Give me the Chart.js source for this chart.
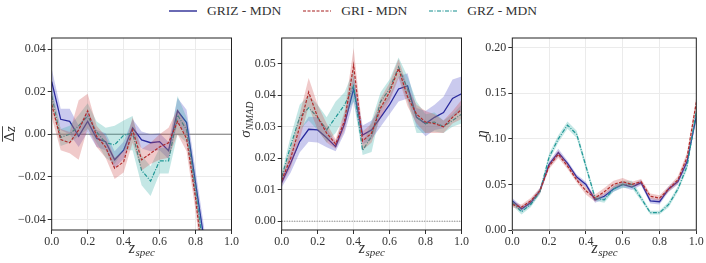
<!DOCTYPE html>
<html>
<head>
<meta charset="utf-8">
<script src="https://cdn.jsdelivr.net/npm/chart.js@4"></script>
<style>
  body { margin: 0; background: #fff; }
  #wrap { position: relative; width: 706px; height: 263px; overflow: hidden; }
  #legend {
    position: absolute; top: 3px; left: 0; width: 706px;
    display: flex; justify-content: center; align-items: center;
    font-family: "Liberation Serif", serif;
    font-size: 13.5px; color: #333;
  }
  #legend span.item { display: flex; align-items: center; margin: 0 11px; }
  #legend svg { margin-right: 10px; }
  canvas { position: absolute; top: 0; }
</style>
</head>
<body>
<div id="wrap">
  <div id="legend">
    <span class="item"><svg width="28" height="6"><line x1="0" y1="3" x2="28" y2="3" stroke="#1a1a8c" stroke-width="1.3"/></svg>GRIZ - MDN</span>
    <span class="item"><svg width="28" height="6"><line x1="0" y1="3" x2="28" y2="3" stroke="#a51c1c" stroke-width="1.2" stroke-dasharray="3,1.5"/></svg>GRI - MDN</span>
    <span class="item"><svg width="28" height="6"><line x1="0" y1="3" x2="28" y2="3" stroke="#138d8d" stroke-width="1.2" stroke-dasharray="4,1.5,1,1.5"/></svg>GRZ - MDN</span>
  </div>
  <canvas id="c1" width="240" height="263" style="left:0px"></canvas>
  <canvas id="c2" width="234" height="263" style="left:236px"></canvas>
  <canvas id="c3" width="240" height="263" style="left:466px"></canvas>
</div>

<script>
// redshift bins
const zSpec = [0, 0.05, 0.1, 0.15, 0.2, 0.25, 0.3, 0.35, 0.4, 0.45, 0.5,
               0.55, 0.6, 0.65, 0.7, 0.75, 0.8, 0.85, 0.9, 0.95, 1.0];

// ---- mean bias (delta z) ----
const biasGRIZ = [0.0247, 0.007, 0.006, -0.001, 0.006, -0.002, -0.0035, -0.012, -0.0075, 0.003, -0.0027,
                  -0.004, -0.0035, -0.0077, 0.011, 0.0055, -0.0229, -0.051, null, null, null];
const biasGRI  = [0.014, -0.0025, -0.004, 0.002, 0.011, -0.001, -0.006, -0.016, -0.013, 0.002, -0.012,
                  -0.009, -0.006, -0.004, 0.006, -0.002, -0.03, -0.066, null, null, null];
const biasGRZ  = [0.018, -0.0015, 0.0, 0.004, 0.0085, 0.001, -0.004, -0.005, -0.0005, 0.0005, -0.017,
                  -0.022, -0.0125, -0.0125, 0.009, 0.002, -0.026, -0.058, null, null, null];
const biasErrGRIZ = [0.006, 0.005, 0.006, 0.005, 0.005, 0.004, 0.004, 0.004, 0.004, 0.004, 0.004,
                     0.004, 0.004, 0.004, 0.006, 0.006, 0.006, 0.006, null, null, null];
const biasErrGRI  = [0.006, 0.005, 0.005, 0.014, 0.008, 0.005, 0.005, 0.005, 0.005, 0.006, 0.005,
                     0.005, 0.006, 0.007, 0.006, 0.006, 0.006, 0.006, null, null, null];
const biasErrGRZ  = [0.004, 0.004, 0.004, 0.005, 0.006, 0.005, 0.007, 0.009, 0.007, 0.008, 0.007,
                     0.007, 0.006, 0.006, 0.009, 0.006, 0.006, 0.006, null, null, null];

// ---- sigma NMAD ----
const sigGRIZ = [0.0123, 0.0185, 0.0253, 0.0292, 0.029, 0.0265, 0.0237, 0.031, 0.042, 0.0274, 0.029,
                 0.033, 0.037, 0.042, 0.043, 0.033, 0.031, 0.033, 0.0345, 0.039, 0.0405];
const sigGRI  = [0.013, 0.02, 0.03, 0.041, 0.033, 0.028, 0.0245, 0.032, 0.0495, 0.0255, 0.028,
                 0.036, 0.041, 0.0485, 0.0395, 0.034, 0.0315, 0.031, 0.030, 0.033, 0.0355];
const sigGRZ  = [0.014, 0.024, 0.033, 0.036, 0.033, 0.029, 0.033, 0.037, 0.043, 0.0225, 0.027,
                 0.038, 0.042, 0.049, 0.042, 0.033, 0.031, 0.0315, 0.030, 0.032, 0.034];
const sigErrGRIZ = [0.0015, 0.003, 0.0035, 0.004, 0.004, 0.003, 0.0015, 0.003, 0.004, 0.003, 0.003,
                    0.003, 0.003, 0.004, 0.004, 0.003, 0.004, 0.004, 0.005, 0.006, 0.0055];
const sigErrGRI  = [0.0015, 0.003, 0.004, 0.0045, 0.004, 0.003, 0.0015, 0.003, 0.0055, 0.003, 0.003,
                    0.003, 0.003, 0.003, 0.003, 0.003, 0.0035, 0.003, 0.002, 0.002, 0.003];
const sigErrGRZ  = [0.0015, 0.003, 0.004, 0.004, 0.004, 0.004, 0.005, 0.004, 0.005, 0.0015, 0.005,
                    0.003, 0.003, 0.003, 0.004, 0.005, 0.003, 0.003, 0.002, 0.002, 0.003];

// ---- outlier fraction eta ----
const etaGRIZ = [0.032, 0.023, 0.03, 0.043, 0.072, 0.085, 0.073, 0.058, 0.05, 0.033, 0.037,
                 0.045, 0.05, 0.047, 0.052, 0.032, 0.031, 0.045, 0.053, 0.075, 0.125];
const etaGRI  = [0.028, 0.025, 0.032, 0.043, 0.07, 0.083, 0.07, 0.055, 0.043, 0.035, 0.042,
                 0.05, 0.053, 0.05, 0.053, 0.037, 0.035, 0.045, 0.055, 0.08, 0.14];
const etaGRZ  = [0.03, 0.02, 0.028, 0.042, 0.08, 0.1, 0.115, 0.105, 0.07, 0.035, 0.033,
                 0.045, 0.05, 0.05, 0.035, 0.019, 0.019, 0.028, 0.045, 0.07, 0.13];
const etaErrGRIZ = [0.003, 0.003, 0.003, 0.003, 0.003, 0.004, 0.003, 0.003, 0.003, 0.003, 0.003,
                    0.003, 0.003, 0.003, 0.003, 0.003, 0.003, 0.003, 0.003, 0.004, 0.005];
const etaErrGRI  = [0.003, 0.003, 0.003, 0.003, 0.003, 0.004, 0.003, 0.003, 0.004, 0.004, 0.004,
                    0.004, 0.004, 0.003, 0.003, 0.003, 0.003, 0.003, 0.004, 0.005, 0.006];
const etaErrGRZ  = [0.003, 0.003, 0.003, 0.003, 0.004, 0.004, 0.004, 0.004, 0.004, 0.003, 0.003,
                    0.003, 0.004, 0.004, 0.003, 0.002, 0.002, 0.003, 0.003, 0.004, 0.005];

const xTicks = [0, 0.2, 0.4, 0.6, 0.8, 1.0];

const lineBlue = '#1a1a8c', lineRed = '#a51c1c', lineTeal = '#138d8d';
const bandBlue = 'rgba(80,80,200,0.3)', bandRed = 'rgba(205,80,80,0.3)', bandTeal = 'rgba(60,175,170,0.3)';
const SERIF = "'Liberation Serif', serif";

function pts(vals, errs, sign) {
    return zSpec.map((z, i) => {
        const v = vals[i];
        if (v === null) return { x: z, y: null };
        return { x: z, y: errs ? v + sign * errs[i] : v };
    });
}

// lower bound, upper bound (filled to lower), then the line
function seriesSets(vals, errs, line, band, dash, width) {
    return [
        { data: pts(vals, errs, -1), borderWidth: 0, pointRadius: 0, fill: false },
        { data: pts(vals, errs, 1), borderWidth: 0, pointRadius: 0, fill: '-1', backgroundColor: band },
        { data: pts(vals, null, 0), borderColor: line, borderWidth: width, borderDash: dash,
          pointRadius: 0, fill: false }
    ];
}

// frame, zero line and math-style axis titles
function panelPlugin(yTitle, zeroDash) {
    return {
        id: 'panelDeco',
        beforeDatasetsDraw(chart) {
            const a = chart.chartArea, ctx = chart.ctx;
            const y0 = chart.scales.y.getPixelForValue(0);
            if (zeroDash !== undefined) {
                ctx.save();
                ctx.strokeStyle = '#555';
                ctx.lineWidth = 0.8;
                ctx.setLineDash(zeroDash);
                ctx.beginPath();
                ctx.moveTo(a.left, y0);
                ctx.lineTo(a.right, y0);
                ctx.stroke();
                ctx.restore();
            }
        },
        afterDraw(chart) {
            const a = chart.chartArea, ctx = chart.ctx;
            ctx.save();
            ctx.strokeStyle = '#222';
            ctx.lineWidth = 1;
            ctx.strokeRect(a.left, a.top, a.right - a.left, a.bottom - a.top);

            // x title: z_spec
            ctx.fillStyle = '#333';
            ctx.textBaseline = 'alphabetic';
            ctx.font = 'italic 16px ' + SERIF;
            const wz = ctx.measureText('z').width;
            ctx.font = 'italic 11px ' + SERIF;
            const ws = ctx.measureText('spec').width;
            let cx = (a.left + a.right) / 2 - (wz + ws) / 2;
            ctx.font = 'italic 16px ' + SERIF;
            ctx.fillText('z', cx, 253);
            ctx.font = 'italic 11px ' + SERIF;
            ctx.fillText('spec', cx + wz + 0.5, 256);

            // y title, rotated
            ctx.translate(yTitle.x, yTitle.y);
            ctx.rotate(-Math.PI / 2);
            yTitle.draw(ctx);
            ctx.restore();
        }
    };
}

function makePanel(id, sets, yMin, yMax, yStep, yWidth, padRight, plugin) {
    new Chart(document.getElementById(id), {
        type: 'line',
        data: { datasets: sets },
        options: {
            responsive: false,
            animation: false,
            layout: { padding: { top: 38, right: padRight, left: 0, bottom: 0 } },
            plugins: { legend: { display: false }, tooltip: { enabled: false } },
            elements: { line: { tension: 0 } },
            scales: {
                x: {
                    type: 'linear', min: 0, max: 1,
                    afterBuildTicks: s => { s.ticks = xTicks.map(v => ({ value: v })); },
                    afterFit: s => { s.height = 33; },
                    grid: { color: '#ebebeb', tickColor: '#333', tickLength: 4 },
                    border: { display: false },
                    ticks: {
                        padding: 1, color: '#333', maxRotation: 0,
                        font: { family: SERIF, size: 12 },
                        callback: v => v.toFixed(1)
                    }
                },
                y: {
                    min: yMin, max: yMax,
                    afterBuildTicks: s => {
                        const t = [];
                        for (let v = Math.ceil(yMin / yStep - 1e-9) * yStep; v <= yMax + 1e-9; v += yStep) t.push({ value: +v.toFixed(4) });
                        s.ticks = t;
                    },
                    afterFit: s => { s.width = yWidth; },
                    grid: { color: '#ebebeb', tickColor: '#333', tickLength: 4 },
                    border: { display: false },
                    ticks: {
                        padding: 2, color: '#333',
                        font: { family: SERIF, size: 12 },
                        callback: v => v.toFixed(2).replace('-', '\u2212')
                    }
                }
            }
        },
        plugins: [plugin]
    });
}

// panel 1: mean bias
makePanel('c1',
    [...seriesSets(biasGRI, biasErrGRI, lineRed, bandRed, [3, 1.5], 1.2),
     ...seriesSets(biasGRZ, biasErrGRZ, lineTeal, bandTeal, [4, 1.5, 1, 1.5], 1.2),
     ...seriesSets(biasGRIZ, biasErrGRIZ, lineBlue, bandBlue, [], 1.3)],
    -0.045, 0.0452, 0.02, 51.7, 4.3,
    panelPlugin({ x: 10, y: 134, draw(ctx) {
        ctx.textAlign = 'left';
        ctx.textBaseline = 'middle';
        ctx.font = '15px ' + SERIF;
        const wd = ctx.measureText('\u0394').width;
        ctx.font = 'italic 15px ' + SERIF;
        const wz = ctx.measureText('z').width;
        const x0 = -(wd + wz) / 2;
        ctx.font = '15px ' + SERIF;
        ctx.fillText('\u0394', x0, 0);
        ctx.font = 'italic 15px ' + SERIF;
        ctx.fillText('z', x0 + wd, 1);
        ctx.strokeStyle = '#333';
        ctx.lineWidth = 0.9;
        ctx.beginPath();
        ctx.moveTo(x0, -7.5);
        ctx.lineTo(x0 + wd + wz, -7.5);
        ctx.stroke();
    } }, [])
);

// panel 2: sigma NMAD
makePanel('c2',
    [...seriesSets(sigGRI, sigErrGRI, lineRed, bandRed, [3, 1.5], 1.2),
     ...seriesSets(sigGRZ, sigErrGRZ, lineTeal, bandTeal, [4, 1.5, 1, 1.5], 1.2),
     ...seriesSets(sigGRIZ, sigErrGRIZ, lineBlue, bandBlue, [], 1.3)],
    -0.0028, 0.0582, 0.01, 45.7, 4.3,
    panelPlugin({ x: 11, y: 120, draw(ctx) {
        ctx.textBaseline = 'alphabetic';
        ctx.font = 'italic 15px ' + SERIF;
        const ws = ctx.measureText('\u03c3').width;
        ctx.font = 'italic 10px ' + SERIF;
        const wn = ctx.measureText('NMAD').width;
        const x0 = -(ws + wn) / 2;
        ctx.font = 'italic 15px ' + SERIF;
        ctx.fillText('\u03c3', x0, 3);
        ctx.font = 'italic 10px ' + SERIF;
        ctx.fillText('NMAD', x0 + ws + 0.5, 6);
    } }, [1, 1.5])
);

// panel 3: outlier fraction
makePanel('c3',
    [...seriesSets(etaGRI, etaErrGRI, lineRed, bandRed, [3, 1.5], 1.2),
     ...seriesSets(etaGRZ, etaErrGRZ, lineTeal, bandTeal, [4, 1.5, 1, 1.5], 1.2),
     ...seriesSets(etaGRIZ, etaErrGRIZ, lineBlue, bandBlue, [], 1.3)],
    0, 0.2106, 0.05, 46.3, 9.7,
    panelPlugin({ x: 16, y: 134, draw(ctx) {
        ctx.textAlign = 'center';
        ctx.textBaseline = 'alphabetic';
        ctx.font = 'italic 15px ' + SERIF;
        ctx.fillText('\u03b7', 0, 4);
    } })
);
</script>
</body>
</html>
